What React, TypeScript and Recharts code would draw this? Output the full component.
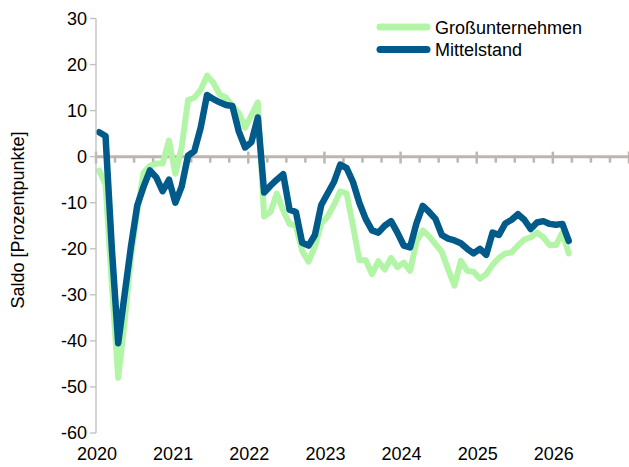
import React from 'react';
import { LineChart, Line, XAxis, YAxis, ReferenceLine, Legend, Label } from 'recharts';

const startYear = 2020;
const yearLabels = [2020, 2021, 2022, 2023, 2024, 2025, 2026];
const yTicks = [30, 20, 10, 0, -10, -20, -30, -40, -50, -60];

// Monthly values, Jan 2020 .. Mar 2026
const grossunternehmen = [
  -3, -6, -28, -48, -36, -22, -12, -3.5, -2, -1.5, -1.5, 3.5,
  -3.7, 2, 12.3, 12.8, 14.5, 17.6, 16, 13.5, 12.8, 11, 9.5, 6.3,
  9, 11.8, -13, -12, -8, -11.7, -14.6, -15, -20.5, -22.8, -19.5, -14.5,
  -13, -10.5, -7.5, -8, -15, -22.5, -22.5, -25.5, -22.7, -24.5, -22, -24,
  -23, -24.8, -18.5, -16, -17.3, -19, -20.7, -24.5, -28, -22.6, -24.8, -25,
  -26.5, -25.5, -23.5, -22, -21, -20.8, -19.3, -18, -17.5, -16.5, -17.5, -19.2,
  -19.2, -16.5, -21,
];
const mittelstand = [
  5.3, 4.5, -20, -40.5, -30, -19.6, -10.6, -6.5, -3, -4.5, -7.5, -5,
  -10, -6.5, 0.2, 1.2, 6.3, 13.4, 12.5, 11.8, 11.2, 11, 5.5, 2,
  3.2, 8.5, -7.8, -6.3, -5, -3.8, -11.5, -12, -18.7, -19.3, -17, -10.5,
  -8, -5.5, -1.7, -2.5, -5.5, -10, -13.5, -16, -16.5, -15, -14, -16.5,
  -19.3, -19.7, -14.5, -10.7, -12, -13.5, -17, -17.8, -18.2, -18.8, -20, -21,
  -20, -21.3, -16.5, -17, -14.5, -13.7, -12.5, -13.7, -15.7, -14.3, -14, -14.6,
  -14.8, -14.6, -18.3,
];

const data = grossunternehmen.map((g, i) => ({ t: i + 0.5, gross: g, mittel: mittelstand[i] }));
const monthsShown = 84;
const quarterTicks = Array.from({ length: monthsShown / 3 + 1 }, (_, q) => q * 3);

const FONT = '"Liberation Sans", Arial, sans-serif';
const GREEN = '#b3f5a6';
const BLUE = '#005a8a';
const AXIS_GRAY = '#bfbfbf';
const ZERO_GRAY = '#bdb6b0';

const renderLegend = (props: any) => {
  const payload = props.payload || [];
  return (
    <svg width={629} height={70} style={{ display: 'block' }}>
      {payload.map((p: any, i: number) => {
        const y = 27 + i * 22.5;
        return (
          <g key={i}>
            <line x1={380} x2={427} y1={y} y2={y} stroke={p.color} strokeWidth={7} strokeLinecap="round" />
            <text x={435} y={y + 6.5} fontSize={18} fontFamily={FONT} fill="#000">{p.value}</text>
          </g>
        );
      })}
    </svg>
  );
};

const renderYLabel = () => (
  <text transform="translate(24,220) rotate(-90)" textAnchor="middle" fontSize={18} fontFamily={FONT} fill="#000">
    Saldo [Prozentpunkte]
  </text>
);

export default function App() {
  return (
    <div style={{ position: 'absolute', left: 0, top: 0, width: 629, height: 467, overflow: 'hidden', background: '#fff' }}>
      <LineChart
        width={629}
        height={467}
        data={data}
        margin={{ top: 18.5, right: 0, left: 0, bottom: 0 }}
        style={{ fontFamily: FONT }}
      >
        <XAxis
          type="number"
          dataKey="t"
          domain={[0, monthsShown]}
          ticks={yearLabels.map((y) => (y - startYear) * 12)}
          tickFormatter={(v: number) => String(startYear + v / 12)}
          interval={0}
          axisLine={false}
          tickLine={false}
          tickSize={6}
          tickMargin={8}
          height={34}
          tick={{ fill: '#000', fontSize: 18, dx: 1 }}
        />
        <YAxis
          type="number"
          domain={[-60, 30]}
          ticks={yTicks}
          interval={0}
          width={96}
          axisLine={{ stroke: AXIS_GRAY, strokeWidth: 1.3 }}
          tickLine={{ stroke: AXIS_GRAY, strokeWidth: 1.3 }}
          tickSize={6}
          tickMargin={3}
          tick={{ fill: '#000', fontSize: 18 }}
        >
          <Label content={renderYLabel} />
        </YAxis>
        <ReferenceLine y={0} stroke={ZERO_GRAY} strokeWidth={3} />
        {quarterTicks.map((q) => (
          <ReferenceLine
            key={q}
            segment={q % 12 === 0 ? [{ x: q, y: 1.1 }, { x: q, y: -1.5 }] : [{ x: q, y: 0 }, { x: q, y: -1.3 }]}
            stroke={ZERO_GRAY}
            strokeWidth={2.5}
            ifOverflow="visible"
          />
        ))}
        <Line
          type="linear"
          dataKey="gross"
          name="Großunternehmen"
          stroke={GREEN}
          strokeWidth={6}
          dot={false}
          strokeLinejoin="round"
          strokeLinecap="round"
          isAnimationActive={false}
        />
        <Line
          type="linear"
          dataKey="mittel"
          name="Mittelstand"
          stroke={BLUE}
          strokeWidth={6.5}
          dot={false}
          strokeLinejoin="round"
          strokeLinecap="round"
          isAnimationActive={false}
        />
        <Legend
          layout="vertical"
          align="center"
          verticalAlign="middle"
          content={renderLegend}
          wrapperStyle={{ position: 'absolute', left: 0, top: 0, width: 629, height: 70 }}
        />
      </LineChart>
    </div>
  );
}
